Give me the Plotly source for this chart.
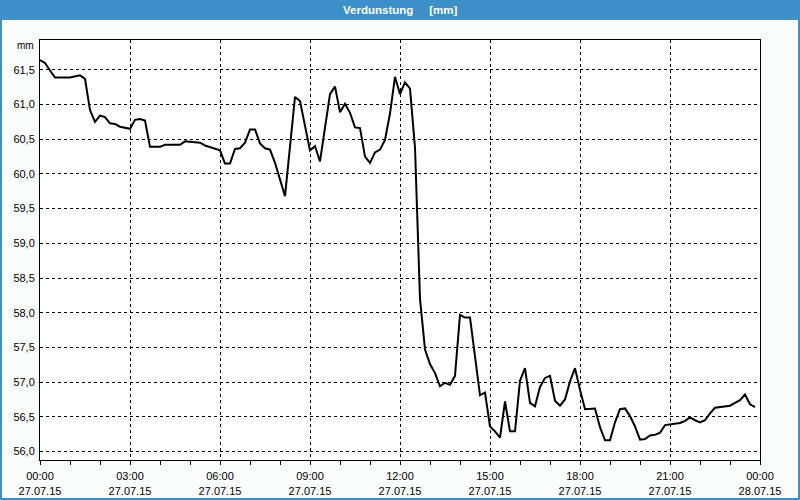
import plotly.graph_objects as go

# ---- data ----
times = ["00:00","00:10","00:20","00:30","01:00","01:20","01:30","01:40","01:50","02:00",
         "02:10","02:20","02:30","02:40","03:00","03:10","03:20","03:30","03:40","04:00",
         "04:10","04:40","04:50","05:00","05:20","05:30","05:40","06:00","06:10","06:20",
         "06:30","06:40","06:50","07:00","07:10","07:20","07:30","07:40","07:50","08:00",
         "08:10","08:30","08:40","09:00","09:10","09:20","09:30","09:40","09:50","10:00",
         "10:10","10:20","10:30","10:40","10:50","11:00","11:10","11:20","11:30","11:40",
         "11:50","12:00","12:10","12:20","12:30","12:40","12:50","13:00","13:10","13:20",
         "13:30","13:40","13:50","14:00","14:10","14:20","14:40","14:50","15:00","15:10",
         "15:20","15:30","15:40","15:50","16:00","16:10","16:20","16:30","16:40","16:50",
         "17:00","17:10","17:20","17:30","17:40","17:50","18:00","18:10","18:30","18:40",
         "18:50","19:00","19:10","19:20","19:30","19:40","19:50","20:00","20:10","20:20",
         "20:30","20:40","20:50","21:00","21:20","21:30","21:40","21:50","22:00","22:10",
         "22:20","22:30","22:40","22:50","23:00","23:10","23:20","23:30","23:40","23:50"]
values = [61.64,61.60,61.49,61.39,61.39,61.42,61.37,60.92,60.75,60.84,
          60.82,60.73,60.72,60.68,60.65,60.78,60.79,60.77,60.39,60.39,
          60.42,60.42,60.47,60.46,60.45,60.41,60.39,60.34,60.15,60.15,
          60.36,60.37,60.45,60.64,60.64,60.44,60.37,60.35,60.16,59.90,
          59.68,61.11,61.05,60.34,60.40,60.18,60.65,61.15,61.26,60.89,
          61.01,60.88,60.67,60.66,60.25,60.16,60.31,60.35,60.49,60.87,
          61.40,61.15,61.32,61.23,60.38,58.20,57.47,57.26,57.13,56.94,
          56.99,56.96,57.09,57.97,57.93,57.93,56.81,56.85,56.36,56.29,
          56.20,56.72,56.29,56.29,57.02,57.20,56.70,56.65,56.93,57.06,
          57.09,56.73,56.66,56.75,57.01,57.20,56.89,56.61,56.62,56.35,
          56.16,56.16,56.42,56.61,56.62,56.51,56.36,56.17,56.18,56.23,
          56.24,56.27,56.38,56.39,56.41,56.44,56.49,56.45,56.42,56.45,
          56.55,56.63,56.64,56.66,56.66,56.70,56.74,56.82,56.68,56.64]

day = "2015-07-27"
x_tick_vals = ["2015-07-27 00:00","2015-07-27 03:00","2015-07-27 06:00","2015-07-27 09:00",
               "2015-07-27 12:00","2015-07-27 15:00","2015-07-27 18:00","2015-07-27 21:00",
               "2015-07-28 00:00"]
x_tick_text = ["00:00<br>27.07.15","03:00<br>27.07.15","06:00<br>27.07.15","09:00<br>27.07.15",
               "12:00<br>27.07.15","15:00<br>27.07.15","18:00<br>27.07.15","21:00<br>27.07.15",
               "00:00<br>28.07.15"]
minor_vals = ["2015-07-27 %02d:00" % h for h in range(24)] + ["2015-07-28 00:00"]
y_tick_vals = [56.0,56.5,57.0,57.5,58.0,58.5,59.0,59.5,60.0,60.5,61.0,61.5]
y_tick_text = ["56,0","56,5","57,0","57,5","58,0","58,5","59,0","59,5","60,0","60,5","61,0","61,5"]

title_text = "Verdunstung" + "\u00a0" * 5 + "[mm]"
unit_text = "mm"

x = [day + " " + t for t in times]

BLUE = "#3d8fc7"
FONT = "Liberation Sans"

fig = go.Figure()
fig.add_trace(go.Scatter(x=x, y=values, mode="lines",
                         line=dict(color="black", width=2), hoverinfo="skip",
                         showlegend=False))

fig.update_layout(
    width=800, height=500,
    margin=dict(l=40, r=40, t=40, b=40, autoexpand=False),
    paper_bgcolor="#fbfdfd", plot_bgcolor="white",
    font=dict(family=FONT, size=11, color="black"),
    xaxis=dict(
        type="date", range=["2015-07-27 00:00", "2015-07-28 00:00"],
        automargin=False,
        tickmode="array", tickvals=x_tick_vals, ticktext=x_tick_text,
        ticks="outside", ticklen=4, tickcolor="black", tickwidth=1,
        showgrid=True, gridcolor="black", gridwidth=1, griddash="3px,3px",
        showline=True, linecolor="black", linewidth=1, mirror=True,
        zeroline=False, ticklabelstandoff=2,
        minor=dict(tickmode="array", tickvals=minor_vals, ticks="outside",
                   ticklen=4, tickcolor="black", showgrid=False),
        tickfont=dict(family=FONT, size=11, color="black"),
    ),
    yaxis=dict(
        range=[55.877, 61.93], automargin=False,
        tickmode="array", tickvals=y_tick_vals, ticktext=y_tick_text,
        ticks="", showgrid=True, gridcolor="black", gridwidth=1, griddash="3px,3px",
        showline=True, linecolor="black", linewidth=1, mirror=True,
        zeroline=False, ticklabelstandoff=2,
        tickfont=dict(family=FONT, size=11, color="black"),
    ),
    shapes=[
        dict(type="rect", xref="paper", yref="paper",
             x0=-40/720, x1=1+40/720, y0=1+20/420, y1=1+40/420,
             fillcolor=BLUE, line=dict(width=0), layer="above"),
        dict(type="rect", xref="paper", yref="paper",
             x0=-40/720 + 1/720, x1=1+40/720 - 1/720, y0=-40/420 + 1/420, y1=1+40/420,
             fillcolor="rgba(0,0,0,0)", line=dict(color=BLUE, width=2), layer="above"),
    ],
    annotations=[
        dict(text=title_text, xref="paper", yref="paper", x=0.5, y=1+30/420,
             xanchor="center", yanchor="middle", showarrow=False,
             font=dict(family=FONT, size=11.5, color="white", weight="bold")),
        dict(text=unit_text, xref="paper", yref="paper", x=-4/720, y=(460-46)/420,
             xanchor="right", yanchor="middle", showarrow=False,
             font=dict(family=FONT, size=10, color="black")),
    ],
)

fig.write_html("out.html")
